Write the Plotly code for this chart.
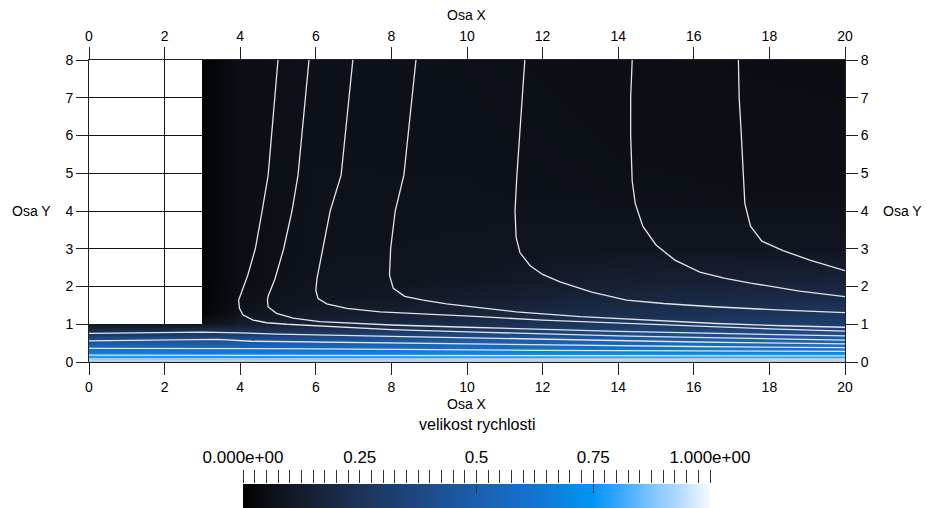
import numpy as np
import plotly.graph_objects as go

# ---------------- data ----------------
# velocity magnitude table: rows = Y_NODES, columns = X_NODES
X_NODES = [0.0, 3.0, 4.0, 6.0, 10.0, 14.0, 20.0]
Y_NODES = [0.0, 0.1, 0.2, 0.3, 0.45, 0.6, 0.75, 0.9, 1.0, 1.3, 1.7, 2.2, 3.0, 4.5, 8.0]
VEL = [
    [0.86, 0.86, 0.86, 0.86, 0.86, 0.86, 0.86],
    [0.79, 0.79, 0.79, 0.79, 0.80, 0.81, 0.81],
    [0.71, 0.71, 0.71, 0.72, 0.73, 0.74, 0.75],
    [0.62, 0.62, 0.62, 0.63, 0.65, 0.66, 0.67],
    [0.50, 0.50, 0.50, 0.51, 0.54, 0.56, 0.58],
    [0.38, 0.39, 0.39, 0.40, 0.44, 0.47, 0.49],
    [0.27, 0.28, 0.28, 0.30, 0.35, 0.39, 0.41],
    [0.15, 0.17, 0.18, 0.20, 0.25, 0.31, 0.34],
    [0.08, 0.06, 0.12, 0.15, 0.21, 0.27, 0.31],
    [0.01, 0.01, 0.07, 0.11, 0.16, 0.22, 0.27],
    [0.01, 0.01, 0.055, 0.085, 0.12, 0.17, 0.21],
    [0.01, 0.01, 0.05, 0.075, 0.09, 0.13, 0.15],
    [0.01, 0.01, 0.05, 0.07, 0.075, 0.085, 0.085],
    [0.01, 0.01, 0.05, 0.068, 0.068, 0.06, 0.055],
    [0.01, 0.01, 0.05, 0.065, 0.062, 0.05, 0.045],
]
STEP_X = [0.0, 3.0]   # solid step (no data)
STEP_Y = [1.0, 8.0]

# streamlines (contour lines)
T1_X = [5.0, 4.87, 4.74, 4.58, 4.40, 4.20, 4.02, 3.96, 3.98, 4.07, 4.34, 4.70, 5.24, 6.5, 8.0, 10.0, 12.0, 14.0, 16.0, 18.0, 20.0]
T1_Y = [8.0, 6.5, 4.95, 4.0, 3.0, 2.3, 1.8, 1.64, 1.42, 1.25, 1.11, 1.04, 1.0, 0.93, 0.86, 0.80, 0.74, 0.69, 0.65, 0.61, 0.58]
T2_X = [5.82, 5.68, 5.53, 5.37, 5.15, 4.92, 4.74, 4.72, 4.74, 4.96, 5.40, 6.10, 8.0, 10.0, 12.0, 14.0, 16.0, 18.0, 20.0]
T2_Y = [8.0, 6.5, 4.95, 4.0, 3.0, 2.2, 1.75, 1.64, 1.46, 1.29, 1.16, 1.07, 0.98, 0.92, 0.86, 0.81, 0.77, 0.73, 0.69]
T3_X = [6.98, 6.83, 6.67, 6.38, 6.18, 6.03, 6.0, 6.06, 6.29, 6.82, 7.70, 8.57, 9.46, 10.34, 12.0, 14.0, 16.0, 18.0, 20.0]
T3_Y = [8.0, 6.5, 4.95, 4.0, 3.0, 2.2, 1.9, 1.68, 1.54, 1.42, 1.33, 1.29, 1.25, 1.20, 1.11, 1.03, 0.95, 0.88, 0.82]
T4_X = [8.65, 8.49, 8.33, 8.10, 7.98, 7.95, 8.05, 8.35, 8.84, 9.46, 10.2, 11.3, 13.0, 14.84, 16.6, 18.36, 20.0]
T4_Y = [8.0, 6.5, 4.95, 4.0, 3.0, 2.3, 1.95, 1.74, 1.64, 1.54, 1.45, 1.33, 1.2, 1.1, 1.02, 0.96, 0.92]
T5_X = [11.53, 11.42, 11.32, 11.27, 11.30, 11.40, 11.67, 12.0, 12.46, 13.3, 14.22, 15.2, 16.4, 18.2, 20.0]
T5_Y = [8.0, 6.5, 4.95, 4.0, 3.3, 2.9, 2.55, 2.32, 2.12, 1.85, 1.64, 1.55, 1.47, 1.38, 1.31]
T6_X = [14.37, 14.33, 14.33, 14.37, 14.45, 14.65, 15.0, 15.5, 16.16, 16.8, 17.5, 18.8, 20.0]
T6_Y = [8.0, 7.0, 6.0, 4.8, 4.2, 3.6, 3.1, 2.7, 2.38, 2.22, 2.09, 1.88, 1.73]
T7_X = [17.18, 17.2, 17.25, 17.3, 17.35, 17.5, 17.8, 18.36, 19.07, 20.0]
T7_Y = [8.0, 7.0, 6.15, 5.0, 4.2, 3.6, 3.2, 2.95, 2.7, 2.42]
I1_X = [0.0, 3.0, 4.0, 5.0, 8.0, 12.0, 16.0, 20.0]
I1_Y = [0.76, 0.79, 0.77, 0.74, 0.68, 0.60, 0.53, 0.48]
I2_X = [0.0, 3.4, 4.3, 8.0, 12.0, 16.0, 20.0]
I2_Y = [0.56, 0.60, 0.55, 0.50, 0.45, 0.41, 0.38]
I3_X = [0.0, 6.0, 12.0, 20.0]
I3_Y = [0.36, 0.35, 0.31, 0.28]
I4_X = [0.0, 10.0, 20.0]
I4_Y = [0.18, 0.17, 0.16]
I5_X = [0.0, 10.0, 20.0]
I5_Y = [0.08, 0.08, 0.075]
I6_X = [0.0, 10.0, 20.0]
I6_Y = [0.03, 0.03, 0.03]

X_TICKS = [0, 2, 4, 6, 8, 10, 12, 14, 16, 18, 20]
Y_TICKS = [0, 1, 2, 3, 4, 5, 6, 7, 8]
CB_TICKS = [0, 0.25, 0.5, 0.75, 1.0]
CB_TICKTEXT = ["0.000e+00", "0.25", "0.5", "0.75", "1.000e+00"]
CB_MAJOR_INNER = [0.25, 0.5, 0.75]

CMAP_POS = [0.0, 0.05, 0.12, 0.25, 0.4, 0.5, 0.62, 0.75, 0.81, 0.87, 0.94, 1.0]
CMAP_COL = ["#000000", "#0b0e14", "#151c2c", "#1c3358", "#1d4c8c", "#1b5fae",
            "#1472d0", "#0096f5", "#3aa8ff", "#78c2ff", "#b8dcff", "#f4faff"]
COLORSCALE = [[p, c] for p, c in zip(CMAP_POS, CMAP_COL)]

# ---------------- build the field grid from the table ----------------
cell = 0.05
xs = np.arange(cell / 2, X_TICKS[-1], cell)
ys = np.arange(cell / 2, Y_TICKS[-1], cell)
tab = np.array(VEL)
col_interp = np.array([np.interp(ys, Y_NODES, tab[:, j]) for j in range(len(X_NODES))]).T  # (ny, nX)
Z = np.array([np.interp(xs, X_NODES, row) for row in col_interp])
XX, YY = np.meshgrid(xs, ys)
Z[(XX > STEP_X[0]) & (XX < STEP_X[1]) & (YY > STEP_Y[0]) & (YY < STEP_Y[1])] = np.nan

FONT = "Liberation Sans, Arial, sans-serif"
W, H = 927, 508
L, R, T, B = 89, 845, 60, 362
CBL, CBR, CBT = 243, 710, 484

fig = go.Figure()
fig.add_trace(go.Heatmap(x=xs, y=ys, z=Z, colorscale=COLORSCALE, zmin=0, zmax=1,
                         showscale=False, hoverinfo="skip", zsmooth=False))

line_style = dict(color="#e4e4e4", width=1.3)
for lx, ly in [(T1_X, T1_Y), (T2_X, T2_Y), (T3_X, T3_Y), (T4_X, T4_Y), (T5_X, T5_Y),
               (T6_X, T6_Y), (T7_X, T7_Y), (I1_X, I1_Y), (I2_X, I2_Y), (I3_X, I3_Y),
               (I4_X, I4_Y)]:
    fig.add_trace(go.Scatter(x=lx, y=ly, mode="lines", line=line_style,
                             hoverinfo="skip", showlegend=False))
for lx, ly in [(I5_X, I5_Y), (I6_X, I6_Y)]:
    fig.add_trace(go.Scatter(x=lx, y=ly, mode="lines", line=dict(color="#c8d2d8", width=1.6),
                             hoverinfo="skip", showlegend=False))

# invisible trace for mirrored axes (top / right)
fig.add_trace(go.Scatter(x=[X_TICKS[0], X_TICKS[-1]], y=[Y_TICKS[0], Y_TICKS[-1]],
                         xaxis="x2", yaxis="y2", mode="markers", marker=dict(opacity=0),
                         hoverinfo="skip", showlegend=False))

# colour bar as gradient strip
cb_x = np.linspace(0, 1, 467)
fig.add_trace(go.Heatmap(x=cb_x, y=[0.5], z=[cb_x], colorscale=COLORSCALE, zmin=0, zmax=1,
                         showscale=False, hoverinfo="skip", xaxis="x3", yaxis="y3"))
fig.add_trace(go.Scatter(x=[0, 1], y=[0.5, 0.5], xaxis="x4", yaxis="y3", mode="markers",
                         marker=dict(opacity=0), hoverinfo="skip", showlegend=False))

tickfont = dict(family=FONT, size=14, color="black")
ax_common = dict(showline=True, linecolor="#222", linewidth=1, ticks="outside", ticklen=12,
                 tickcolor="#222", tickwidth=1, zeroline=False, tickfont=tickfont,
                 automargin=False)

xdom = [L / W, R / W]
ydom = [(H - B) / H, (H - T) / H]

fig.update_layout(
    width=W, height=H, margin=dict(l=0, r=0, t=0, b=0, autoexpand=False),
    paper_bgcolor="white", plot_bgcolor="white", showlegend=False,
    font=dict(family=FONT, color="black"),
    xaxis=dict(domain=xdom, range=[X_TICKS[0], X_TICKS[-1]], tickvals=X_TICKS, anchor="y",
               showgrid=True, gridcolor="#111", gridwidth=1, **ax_common),
    yaxis=dict(domain=ydom, range=[Y_TICKS[0], Y_TICKS[-1]], tickvals=Y_TICKS, anchor="x",
               showgrid=True, gridcolor="#111", gridwidth=1, **ax_common),
    xaxis2=dict(overlaying="x", side="top", anchor="y", matches="x", tickvals=X_TICKS,
                showgrid=False, **ax_common),
    yaxis2=dict(overlaying="y", side="right", anchor="x", matches="y", tickvals=Y_TICKS,
                showgrid=False, **ax_common),
    xaxis3=dict(domain=[CBL / W, CBR / W], range=[0, 1], anchor="y3", side="top",
                tickvals=CB_TICKS, ticktext=CB_TICKTEXT, ticks="outside", ticklen=13,
                tickcolor="#333", tickwidth=1, showline=False, showgrid=False, zeroline=False,
                automargin=False,
                tickfont=dict(family=FONT, size=17, color="black"),
                minor=dict(dtick=0.025, tick0=0, ticks="outside", ticklen=13,
                           tickcolor="#333", tickwidth=1, showgrid=False)),
    xaxis4=dict(overlaying="x3", matches="x3", anchor="y3", side="top", tickvals=CB_MAJOR_INNER,
                ticks="inside", ticklen=9, tickcolor="#333", tickwidth=1, automargin=False,
                showticklabels=False, showline=False, showgrid=False, zeroline=False),
    yaxis3=dict(domain=[0, (H - CBT) / H], range=[0, 1], anchor="x3", visible=False,
                automargin=False),
)

ann_font = dict(family=FONT, size=14, color="black")
cx = (L + R) / 2 / W
cy = 1 - (T + B) / 2 / H
for txt, x, y in [("Osa X", cx, 1 - 15 / H), ("Osa X", cx, 1 - 404 / H),
                  ("Osa Y", 32 / W, cy), ("Osa Y", 902 / W, cy)]:
    fig.add_annotation(text=txt, x=x, y=y, xref="paper", yref="paper", showarrow=False,
                       xanchor="center", yanchor="middle", font=ann_font)
fig.add_annotation(text="velikost rychlosti", x=(CBL + CBR) / 2 / W, y=1 - 424 / H,
                   xref="paper", yref="paper", showarrow=False, xanchor="center",
                   yanchor="middle", font=dict(family=FONT, size=16, color="black"))

fig.write_html("out.html")
